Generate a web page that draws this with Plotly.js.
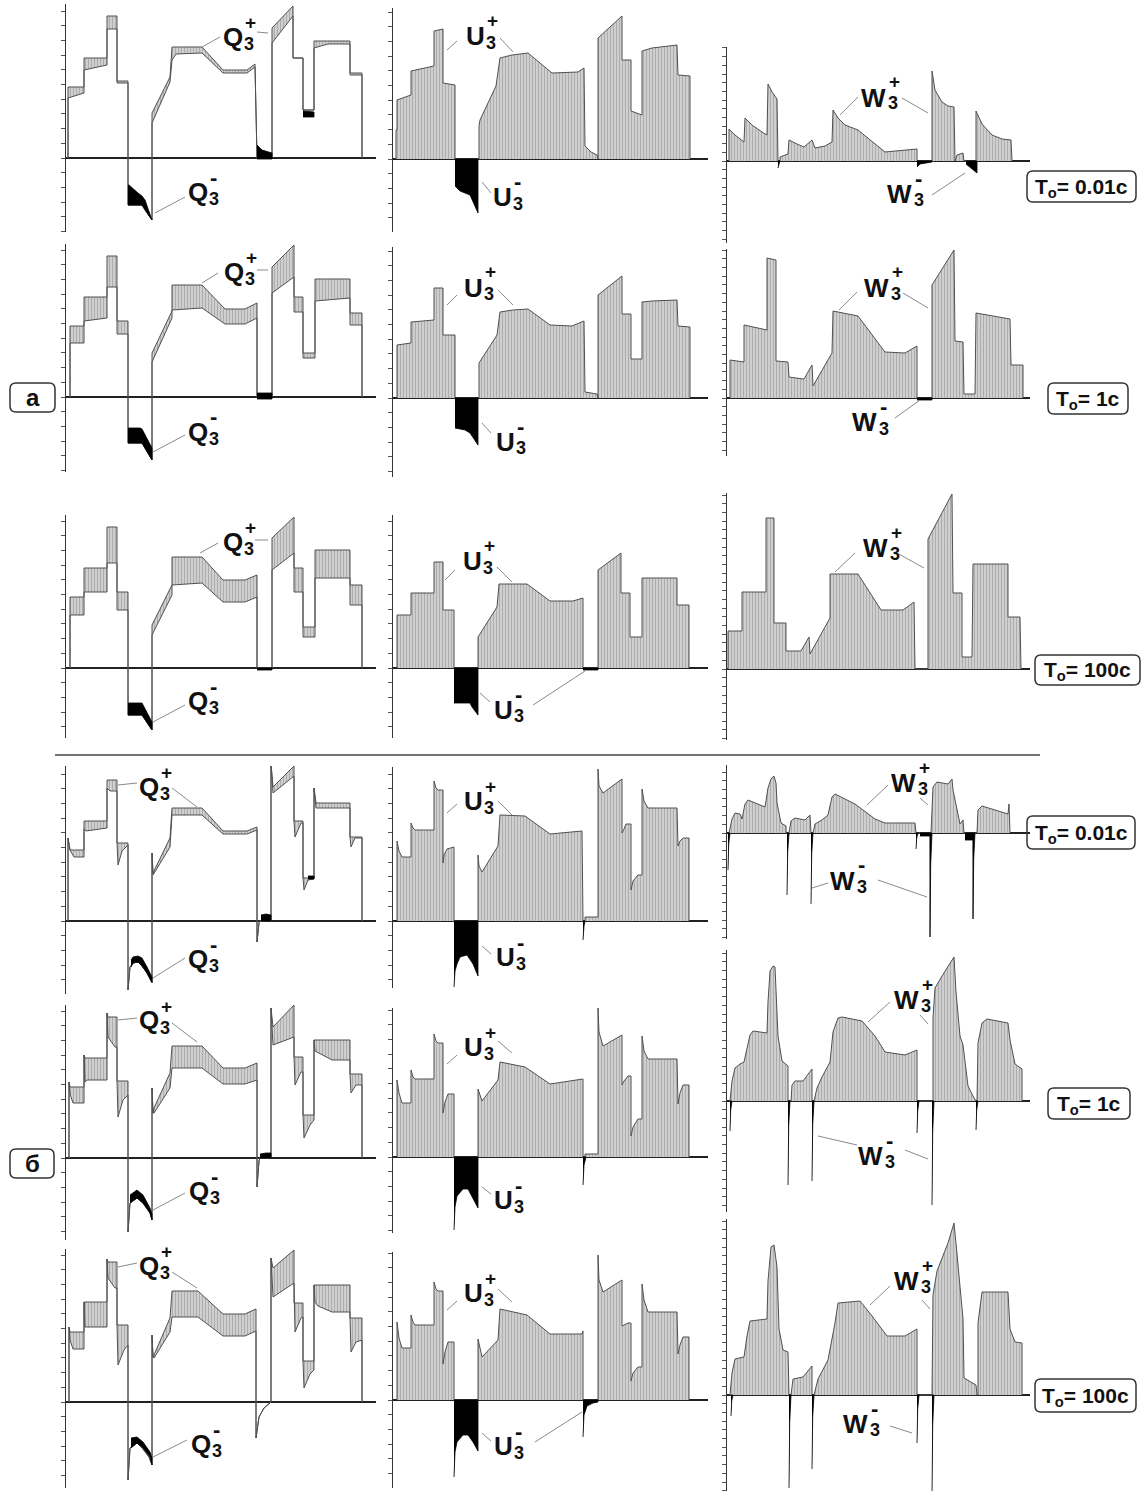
<!DOCTYPE html>
<html><head><meta charset="utf-8">
<script src="https://cdn.plot.ly/plotly-3.0.1.min.js"></script>
<style>html,body{margin:0;padding:0;background:#fff}#chart{width:1144px;height:1491px}</style>
</head><body><div id="chart"></div>
<script>
// ===== DATA (time along x, value along y; Q: outer/inner envelopes; negative parts separately) =====
// --- а, T0 = 0.01 c ---
const Q_A1_X  = [2,2,18,18,41,41,51,51,62,62,76,86,86,104,106,110,136,157,181,189,191,206,206,227,227,237,237,248,248,262,284,284,296,296];
const Q_A1_HI = [0,71,71,100,100,142,142,77,77,-47,-47,-62,45,81,111,111,111,88,88,94,0,0,130,152,100,100,48,48,117,117,117,85,85,0];
const Q_A1_LO = [0,60,65,88,93,129,129,75,75,-47,-47,-62,35,76,98,104,105,85,85,91,0,0,115,142,100,100,48,48,110,114,114,83,83,0];
const Q_A1_NX   = [62,63,72,76,79,86,null,191,196,206,null,237,248];
const Q_A1_NTOP = [-27,-27,-35,-38,-42,-60,null,13,8,5,null,47,46];
const Q_A1_NBOT = [-47,-47,-47,-47,-52,-62,null,-1,-1,-1,null,41,41];
const U_A1_X = [3,3,4,4,18,18,41,41,50,50,62,62,86,86,87,103,107,119,135,159,185,191,192,198,204,205,205,229,229,238,238,249,249,259,284,285,297,297];
const U_A1_Y = [0,29,29,59,64,88,93,128,130,76,74,0,0,33,39,73,101,104,106,86,87,91,13,7,4,0,121,143,99,99,48,44,108,111,114,84,83,0];
const U_A1_NX   = [62,67,77,79,85];
const U_A1_NBOT = [-27,-32,-36,-41,-54];
const W_A1_X = [2,2,8,17,18,25,35,40,41,45,50,51,53,53,61,62,70,77,85,88,98,105,106,111,118,131,158,190,190,205,205,208,215,221,227,228,230,236,237,249,249,255,265,275,284,285];
const W_A1_Y = [0,32,26,19,43,36,29,26,77,69,62,0,0,4,7,21,17,14,21,13,15,19,51,43,36,31,9,12,0,0,90,71,59,55,54,0,6,8,0,0,50,37,26,22,21,0];
const W_A1_NX   = [51,52,53,null,190,193,205,null,239,245,250];
const W_A1_NBOT = [-7,-3,0,null,-6,-3,-1,null,-3,-8,-12];
// --- а, T0 = 1 c ---
const Q_A2_X  = [4,4,18,18,41,41,51,51,62,62,76,86,86,106,106,136,159,179,191,191,206,206,228,228,237,237,249,249,284,284,296,296];
const Q_A2_HI = [0,71,71,100,100,141,141,76,76,-46,-46,-63,44,86,112,112,88,88,94,0,0,130,152,100,100,44,44,118,118,84,84,0];
const Q_A2_LO = [0,54,54,76,79,110,110,63,63,-46,-46,-63,35,79,87,89,73,73,79,0,0,104,120,85,85,39,39,96,99,72,72,0];
const Q_A2_NX   = [62,74,76,86,null,191,206];
const Q_A2_NTOP = [-31,-31,-32,-51,null,4,4];
const Q_A2_NBOT = [-46,-46,-46,-63,null,-2,-2];
const U_A2_X = [4,4,18,18,41,41,50,50,62,62,86,86,104,107,120,135,157,179,191,192,204,205,205,229,229,238,238,249,249,259,284,285,297,297];
const U_A2_Y = [0,53,55,76,78,110,110,63,63,0,0,35,63,86,88,89,73,72,77,6,4,0,103,122,84,84,39,39,96,97,98,72,71,0];
const U_A2_NX   = [62,72,77,79,85];
const U_A2_NBOT = [-30,-32,-35,-37,-47];
const W_A2_X = [3,3,17,17,40,40,49,49,61,62,76,77,85,86,105,106,131,158,178,190,190,205,205,227,228,236,237,248,249,283,284,296,296];
const W_A2_Y = [0,38,36,73,68,140,138,37,36,21,19,19,33,12,45,87,82,46,45,52,0,0,113,148,57,56,4,4,85,79,33,33,0];
const W_A2_NX   = [190,205];
const W_A2_NBOT = [-2,-2];
// --- а, T0 = 100 c ---
const Q_A3_X  = [4,4,18,18,41,41,51,51,62,62,76,86,86,106,106,136,157,179,191,191,206,206,228,228,237,237,249,249,284,284,296,296];
const Q_A3_HI = [0,71,71,100,100,141,141,76,76,-47,-47,-62,43,83,111,111,88,88,93,0,0,130,151,100,100,41,41,118,118,83,83,0];
const Q_A3_LO = [0,53,53,76,76,105,105,58,58,-47,-47,-62,33,73,83,85,66,66,71,0,0,98,115,76,76,31,31,90,90,63,63,0];
const Q_A3_NX   = [62,76,86,null,191,206];
const Q_A3_NTOP = [-35,-35,-54,null,0,0];
const Q_A3_NBOT = [-47,-47,-62,null,-2,-2];
const U_A3_X = [4,4,18,18,41,41,50,50,61,61,85,85,104,106,134,157,180,190,190,205,205,228,228,237,237,249,249,284,284,296,296];
const U_A3_Y = [0,53,53,75,75,106,106,58,58,0,0,31,61,84,84,67,67,70,0,0,98,115,75,75,31,31,90,90,63,63,0];
const U_A3_NX   = [61,77,79,85,null,190,205];
const U_A3_NBOT = [-35,-35,-39,-47,null,-2,-2];
const W_A3_X = [1,1,15,15,39,39,47,47,59,59,74,82,83,103,103,131,154,176,187,188,201,201,225,226,235,235,245,246,281,281,293,294];
const W_A3_Y = [0,38,38,77,77,151,151,46,46,18,18,32,15,51,95,95,59,59,67,0,0,130,175,76,76,12,12,105,105,52,52,0];
const W_A3_NX   = [];
const W_A3_NBOT = [];
// --- б, T0 = 0.01 c ---
const Q_B1_X  = [2,2,4,8,18,18,20,41,41,44,51,51,52,56,62,62,64,67,72,76,81,86,86,87,104,106,136,157,181,191,191,193,194,205,205,207,228,228,229,235,237,237,238,242,248,248,250,284,284,285,289,296,296];
const Q_B1_HI = [0,83,71,71,71,100,100,100,141,141,141,78,78,78,78,-69,-46,-42,-41,-45,-52,-62,68,48,83,113,113,90,90,94,-21,-2,0,0,158,134,155,100,100,100,100,43,43,43,43,133,118,118,84,84,84,84,0];
const Q_B1_LO = [0,83,71,64,64,92,90,93,133,130,130,78,56,70,76,-69,-46,-42,-41,-45,-52,-62,68,46,74,106,106,87,87,91,-21,-2,0,0,158,128,145,100,84,98,98,43,31,41,42,133,113,113,84,74,83,83,0];
const Q_B1_NX   = [65,67,72,76,81,86,null,195,200,205,null,242,248];
const Q_B1_NTOP = [-39,-36,-35,-37,-46,-56,null,6,7,6,null,45,45];
const Q_B1_NBOT = [-46,-42,-41,-45,-52,-61,null,0,0,0,null,42,42];
const U_B1_X = [4,4,6,9,18,18,20,22,41,41,43,45,50,50,51,54,61,61,85,85,86,89,105,107,132,157,189,190,192,192,205,205,206,210,229,229,231,233,238,238,240,245,249,249,251,255,284,285,287,290,296,296];
const U_B1_Y = [0,80,70,64,64,98,93,91,91,140,133,131,131,58,66,72,74,0,0,66,55,49,75,106,105,87,90,0,0,4,4,152,135,128,142,88,92,97,97,31,40,46,46,132,120,113,113,75,80,83,83,0];
const U_B1_NX   = [61,62,64,67,74,80,85,null,190,191,192];
const U_B1_NBOT = [-66,-50,-43,-36,-34,-43,-55,null,-19,-5,0];
const W_B1_X = [2,5,8,13,15,18,21,38,41,44,47,49,50,54,59,59,62,64,68,78,83,84,86,88,95,101,105,108,128,148,158,188,189,204,206,210,221,225,226,233,236,237,250,251,255,275,281,282,283];
const W_B1_Y = [0,14,20,19,14,29,33,26,45,54,57,50,30,10,7,0,0,12,15,13,18,0,0,9,13,18,36,39,29,14,10,10,0,0,46,51,49,54,43,9,13,0,0,23,27,21,19,29,0];
const W_B1_NX   = [1,1.7,3,null,60,60.7,62,null,84,84.7,86,null,189,189.7,191,null,193,202.9,203,203.7,205,null,238,245.9,246,246.7,248];
const W_B1_NBOT = [-37,-11,0,null,-62,-19,0,null,-71,-21,0,null,-16,-5,0,null,-3,-3,-104,-31,0,null,-7,-7,-86,-26,0];
// --- б, T0 = 1 c ---
const Q_B2_X  = [3,3,4,7,18,18,19,21,41,41,42,49,51,51,52,57,62,62,64,71,77,84,86,86,87,88,104,106,136,157,179,191,191,193,194,205,205,207,228,228,229,235,237,237,238,244,248,248,249,252,266,284,284,285,290,296,296];
const Q_B2_HI = [0,76,71,71,71,103,100,100,100,145,141,141,141,77,77,77,77,-74,-45,-40,-45,-55,-62,70,45,50,85,112,112,90,90,95,-29,-3,0,0,150,131,153,101,101,101,101,43,43,43,43,118,118,118,118,118,84,84,84,84,0];
const Q_B2_LO = [0,76,64,55,55,103,76,78,78,145,121,111,111,77,41,58,63,-74,-45,-40,-45,-55,-62,70,45,45,70,90,90,74,74,78,-29,-3,0,0,150,113,121,101,73,86,86,43,20,33,38,118,107,105,98,98,84,65,73,73,0];
const Q_B2_NX   = [64,71,77,84,86,null,194,200,205];
const Q_B2_NTOP = [-37,-32,-37,-50,-56,null,4,5,5];
const Q_B2_NBOT = [-45,-40,-45,-55,-62,null,0,0,0];
const U_B2_X = [4,4,6,9,18,18,20,22,41,41,43,45,50,50,52,55,61,61,85,85,89,105,107,132,157,187,190,190,192,192,205,205,206,210,229,229,231,235,238,238,240,245,249,249,251,255,284,285,287,290,296,296];
const U_B2_Y = [0,77,64,54,54,87,80,78,78,123,116,114,114,44,55,63,63,0,0,68,56,77,95,90,73,77,78,0,0,3,3,149,125,111,122,72,76,81,81,21,30,38,38,121,106,98,98,53,64,72,72,0];
const U_B2_NX   = [61,62,64,70,75,80,85,null,190,191,193];
const U_B2_NBOT = [-73,-50,-39,-32,-32,-42,-51,null,-28,-8,0];
const W_B2_X = [3,5,8,13,17,20,23,26,40,41,43,46,48,51,55,61,61,64,65,68,76,85,85,87,90,95,103,106,111,115,135,148,158,178,190,190,206,206,208,215,221,227,229,233,236,241,247,249,250,251,255,260,281,283,288,295,295];
const W_B2_Y = [0,20,33,37,39,54,66,70,68,99,130,135,134,65,40,35,0,0,16,20,20,32,0,0,13,24,39,69,83,84,80,65,49,46,51,0,0,83,113,125,135,144,109,65,56,15,3,0,0,58,78,82,78,61,37,32,0];
const W_B2_NX   = [3,3.7,5,null,61,61.7,63,null,85,85.7,87,null,190,190.7,192,null,205,205.7,207,null,249,249.7,251];
const W_B2_NBOT = [-30,-9,0,null,-84,-25,0,null,-80,-24,0,null,-32,-10,0,null,-104,-31,0,null,-29,-9,0];
// --- б, T0 = 100 c ---
const Q_B3_X  = [3,3,4,7,18,18,19,41,41,42,49,51,51,52,58,62,62,64,71,77,83,86,86,87,88,104,106,132,157,179,190,190,193,198,204,205,205,207,228,228,229,235,237,237,238,244,248,248,249,252,266,284,284,285,290,296,296];
const Q_B3_HI = [0,75,70,70,70,100,100,100,143,140,140,140,77,77,77,77,-78,-46,-41,-47,-55,-63,67,45,47,84,111,111,88,88,93,-36,-15,-6,-1,0,144,134,152,99,99,99,99,41,41,41,41,117,117,117,117,117,84,84,84,84,0];
const Q_B3_LO = [0,75,62,53,53,100,75,75,143,124,114,114,77,37,52,57,-78,-46,-41,-47,-55,-63,67,45,44,70,85,85,66,66,71,-36,-15,-6,-1,0,144,105,119,99,70,84,85,41,14,28,32,117,100,96,90,90,84,50,60,62,0];
const Q_B3_NX   = [65,71,77,84,86];
const Q_B3_NTOP = [-36,-35,-40,-50,-56];
const Q_B3_NBOT = [-46,-41,-46,-55,-63];
const U_B3_X = [4,4,6,9,18,18,20,22,41,41,43,45,50,50,52,55,61,61,85,85,89,105,107,134,157,189,190,190,205,205,206,210,229,229,235,238,238,240,245,249,249,251,255,284,285,287,290,296,296];
const U_B3_Y = [0,78,62,52,52,85,78,75,75,118,111,109,109,36,48,58,58,0,0,61,43,60,91,85,66,66,69,0,0,145,120,108,120,74,77,77,19,27,33,33,116,100,88,88,46,55,63,63,0];
const U_B3_NX   = [61,62,64,70,75,80,85,null,190,191,194,200,205];
const U_B3_NBOT = [-77,-52,-42,-35,-35,-42,-51,null,-37,-15,-6,-3,-2];
const W_B3_X = [3,5,8,17,20,23,40,41,44,47,50,52,56,61,62,64,66,76,85,85,87,91,101,108,111,133,145,160,178,190,190,205,206,210,221,227,230,235,236,237,245,249,250,251,251,255,281,283,288,295,295];
const W_B3_Y = [0,22,36,38,59,74,76,114,148,150,128,66,45,43,0,0,16,18,29,0,0,16,35,72,92,94,79,59,59,66,0,0,100,124,152,172,141,86,76,17,12,10,0,0,72,103,103,66,53,52,0];
const W_B3_NX   = [4,4.7,6,null,62,62.7,64,null,85,85.7,87,null,190,190.7,192,null,205,205.7,207];
const W_B3_NBOT = [-21,-6,0,null,-93,-28,0,null,-74,-22,0,null,-48,-14,0,null,-100,-30,0];

const PERIOD_LABELS = ['0.01c','1c','100c'];
const GROUP_LABELS = ['а','б'];

// ===== LAYOUT CONFIG (pixel geometry of the figure) =====
const FW = 1144, FH = 1491;
const COLS = [{x0:66,w:310,dtick:14.7},{x0:393,w:315,dtick:14.7},{x0:727,w:303,dtick:8.7}];
const ROWS = [
  [{zero:158,top:154,bot:74},{zero:159,top:151,bot:73},{zero:161,top:114,bot:82}],
  [{zero:397,top:153,bot:75},{zero:398,top:151,bot:79},{zero:398,top:149,bot:58}],
  [{zero:668,top:153,bot:70},{zero:668,top:153,bot:70},{zero:669,top:176,bot:71}],
  [{zero:921,top:155,bot:73},{zero:921,top:154,bot:67},{zero:833,top:68,bot:106}],
  [{zero:1158,top:153,bot:82},{zero:1157,top:149,bot:76},{zero:1101,top:151,bot:111}],
  [{zero:1402,top:153,bot:86},{zero:1400,top:148,bot:88},{zero:1395,top:176,bot:96}]
];
const DATA = [
  [{k:'Q',x:Q_A1_X,hi:Q_A1_HI,lo:Q_A1_LO,nx:Q_A1_NX,nt:Q_A1_NTOP,nb:Q_A1_NBOT},{k:'U',x:U_A1_X,y:U_A1_Y,nx:U_A1_NX,nb:U_A1_NBOT},{k:'W',x:W_A1_X,y:W_A1_Y,nx:W_A1_NX,nb:W_A1_NBOT}],
  [{k:'Q',x:Q_A2_X,hi:Q_A2_HI,lo:Q_A2_LO,nx:Q_A2_NX,nt:Q_A2_NTOP,nb:Q_A2_NBOT},{k:'U',x:U_A2_X,y:U_A2_Y,nx:U_A2_NX,nb:U_A2_NBOT},{k:'W',x:W_A2_X,y:W_A2_Y,nx:W_A2_NX,nb:W_A2_NBOT}],
  [{k:'Q',x:Q_A3_X,hi:Q_A3_HI,lo:Q_A3_LO,nx:Q_A3_NX,nt:Q_A3_NTOP,nb:Q_A3_NBOT},{k:'U',x:U_A3_X,y:U_A3_Y,nx:U_A3_NX,nb:U_A3_NBOT},{k:'W',x:W_A3_X,y:W_A3_Y,nx:W_A3_NX,nb:W_A3_NBOT}],
  [{k:'Q',x:Q_B1_X,hi:Q_B1_HI,lo:Q_B1_LO,nx:Q_B1_NX,nt:Q_B1_NTOP,nb:Q_B1_NBOT},{k:'U',x:U_B1_X,y:U_B1_Y,nx:U_B1_NX,nb:U_B1_NBOT},{k:'W',x:W_B1_X,y:W_B1_Y,nx:W_B1_NX,nb:W_B1_NBOT}],
  [{k:'Q',x:Q_B2_X,hi:Q_B2_HI,lo:Q_B2_LO,nx:Q_B2_NX,nt:Q_B2_NTOP,nb:Q_B2_NBOT},{k:'U',x:U_B2_X,y:U_B2_Y,nx:U_B2_NX,nb:U_B2_NBOT},{k:'W',x:W_B2_X,y:W_B2_Y,nx:W_B2_NX,nb:W_B2_NBOT}],
  [{k:'Q',x:Q_B3_X,hi:Q_B3_HI,lo:Q_B3_LO,nx:Q_B3_NX,nt:Q_B3_NTOP,nb:Q_B3_NBOT},{k:'U',x:U_B3_X,y:U_B3_Y,nx:U_B3_NX,nb:U_B3_NBOT},{k:'W',x:W_B3_X,y:W_B3_Y,nx:W_B3_NX,nb:W_B3_NBOT}]
];
// label letter boxes: [letter, sign, left, top, bottom] in figure pixels
const LABELS = [
  ['Q','+',222,27,47],['Q','-',187,182,202],['U','+',465,27,46],['U','-',492,187,207],['W','+',860,89,106],['W','-',886,184,203],
  ['Q','+',223,262,282],['Q','-',187,421,442],['U','+',463,278,297],['U','-',495,432,451],['W','+',863,278,297],['W','-',851,413,432],
  ['Q','+',222,532,552],['Q','-',187,690,711],['U','+',462,552,571],['U','-',493,700,719],['W','+',862,538,557],
  ['Q','+',138,777,797],['Q','-',187,948,969],['U','+',463,791,811],['U','-',495,947,967],['W','+',890,773,792],['W','-',829,872,890],
  ['Q','+',138,1010,1031],['Q','-',188,1180,1201],['U','+',463,1037,1057],['U','-',493,1190,1210],['W','+',893,991,1009],['W','-',857,1146,1165],
  ['Q','+',138,1255,1276],['Q','-',190,1433,1454],['U','+',463,1283,1303],['U','-',493,1436,1456],['W','+',893,1271,1290],['W','-',842,1414,1433]
];
const LEADERS = [
  [202,47,220,37],[257,32,268,33],[155,213,185,197],[447,50,457,41],[500,38,513,52],[482,182,491,193],[840,115,858,97],[902,98,928,113],[932,195,965,173],
  [202,283,218,273],[257,270,268,270],[153,452,185,435],[447,305,457,295],[498,290,513,305],[482,423,491,433],[839,310,857,292],[903,293,928,308],[895,418,920,400],
  [200,553,218,543],[255,540,268,540],[153,722,185,705],[445,580,455,570],[497,567,512,582],[480,693,490,702],[533,705,585,671],[835,572,855,553],[897,553,924,568],
  [118,785,137,783],[172,788,197,807],[153,978,185,958],[447,813,457,804],[498,801,512,815],[482,946,491,954],[867,805,888,785],[920,798,928,805],[812,888,828,883],[878,880,927,897],
  [118,1020,137,1018],[172,1023,197,1042],[153,1210,185,1193],[447,1064,457,1055],[498,1041,512,1053],[482,1187,491,1194],[868,1022,890,1002],[920,1015,928,1024],[818,1136,857,1145],[905,1150,928,1159],
  [118,1267,137,1263],[172,1272,197,1288],[153,1457,187,1440],[447,1310,457,1301],[498,1289,512,1302],[482,1433,491,1441],[535,1442,582,1412],[870,1305,890,1286],[922,1300,930,1309],[890,1426,912,1433]
];
const TBOXES = [[1027,1136,171,202],[1048,1128,383,414],[1035,1140,655,685],[1027,1135,816,849],[1048,1130,1088,1119],[1035,1136,1379,1412]];
const GBOXES = [[10,55,383,412],[10,54,1149,1178]];

// ===== BUILD =====
const FONT = 'Liberation Sans, Arial, Helvetica, sans-serif';
const TXT = '#111';
const LINE = '#505050';
const HATCH = {shape:'|', size:3, solidity:0.34, fgcolor:'#8c8c8c', fillmode:'overlay'};
const FILLC = '#cfcfcf';
const PX = v => v / FW, PY = v => 1 - v / FH;

function band(x, hi, lo){
  return {x: x.concat(x.slice().reverse()), y: hi.concat(lo.slice().reverse())};
}
function segPolys(x, top, bot){
  const px = [], py = [];
  let sx = [], st = [], sb = [];
  const flush = () => {
    if (sx.length){
      for (let i = 0; i < sx.length; i++){ px.push(sx[i]); py.push(st[i]); }
      for (let i = sx.length - 1; i >= 0; i--){ px.push(sx[i]); py.push(sb[i]); }
      px.push(null); py.push(null);
    }
    sx = []; st = []; sb = [];
  };
  for (let i = 0; i < x.length; i++){
    if (x[i] === null){ flush(); continue; }
    sx.push(x[i]); st.push(top ? top[i] : 0); sb.push(bot[i]);
  }
  flush();
  return {x: px, y: py};
}

const traces = [];
const layout = {
  width: FW, height: FH, margin: {l:0, r:0, t:0, b:0},
  paper_bgcolor: '#fff', plot_bgcolor: 'rgba(0,0,0,0)', showlegend: false,
  annotations: [], shapes: []
};
let idx = 0;
for (let r = 0; r < 6; r++){
  for (let c = 0; c < 3; c++){
    idx++;
    const g = ROWS[r][c], col = COLS[c], d = DATA[r][c];
    const xa = 'x' + (idx === 1 ? '' : idx), ya = 'y' + (idx === 1 ? '' : idx);
    const xk = 'xaxis' + (idx === 1 ? '' : idx), yk = 'yaxis' + (idx === 1 ? '' : idx);
    layout[xk] = {domain:[PX(col.x0), PX(col.x0 + col.w)], range:[0, col.w], anchor: ya,
      showline:false, showgrid:false, zeroline:false, showticklabels:false, ticks:'', fixedrange:true};
    layout[yk] = {domain:[PY(g.zero + g.bot), PY(g.zero - g.top)], range:[-g.bot, g.top], anchor: xa,
      showline:true, linecolor:'#333', linewidth:1.5, ticks:'outside', ticklen:4, tickwidth:1, tickcolor:'#555',
      tick0:0, dtick: col.dtick, showticklabels:false, showgrid:false,
      zeroline:true, zerolinecolor:'#222', zerolinewidth:1.6, fixedrange:true};
    let main;
    if (d.k === 'Q') main = band(d.x, d.hi, d.lo);
    else main = {x: d.x, y: d.y};
    traces.push({type:'scatter', mode:'lines', x: main.x, y: main.y, xaxis: xa, yaxis: ya,
      fill:'toself', fillcolor: FILLC, fillpattern: HATCH, line:{color: LINE, width:1}, hoverinfo:'skip'});
    if (d.nx.length){
      const n = segPolys(d.nx, d.nt || null, d.nb);
      traces.push({type:'scatter', mode:'lines', x: n.x, y: n.y, xaxis: xa, yaxis: ya,
        fill:'toself', fillcolor:'#000', line:{color:'#000', width:0.8}, hoverinfo:'skip'});
    }
  }
}

// labels
const LW = {Q:21, U:20, W:27};
LABELS.forEach(L => {
  const [t, s, x, y0, y1] = L;
  const w = LW[t];
  const extra = Math.max(0, 21 - (y1 - y0));
  layout.annotations.push({xref:'paper', yref:'paper', x:PX(x), y:PY((y0 + y1) / 2), xanchor:'left', yanchor:'middle',
    text:'<b>' + t + '</b>', showarrow:false, borderpad:0, font:{family:FONT, size:26, color:TXT}});
  layout.annotations.push({xref:'paper', yref:'paper', x:PX(x + w + 1), y:PY(y0 - 4 - extra), xanchor:'left', yanchor:'middle',
    text:'<b>' + s + '</b>', showarrow:false, borderpad:0, font:{family:FONT, size: s === '+' ? 19 : 22, color:TXT}});
  layout.annotations.push({xref:'paper', yref:'paper', x:PX(x + w), y:PY(y1 - 3), xanchor:'left', yanchor:'middle',
    text:'<b>3</b>', showarrow:false, borderpad:0, font:{family:FONT, size:18, color:TXT}});
});
LEADERS.forEach(l => {
  layout.shapes.push({type:'line', xref:'paper', yref:'paper', x0:PX(l[0]), y0:PY(l[1]), x1:PX(l[2]), y1:PY(l[3]),
    line:{color:'#8a8a8a', width:1}});
});
function rrect(x0, x1, y0, y1, r){
  const X = PX, Y = PY;
  return `M${X(x0+r)},${Y(y0)} L${X(x1-r)},${Y(y0)} Q${X(x1)},${Y(y0)} ${X(x1)},${Y(y0+r)} L${X(x1)},${Y(y1-r)} Q${X(x1)},${Y(y1)} ${X(x1-r)},${Y(y1)} L${X(x0+r)},${Y(y1)} Q${X(x0)},${Y(y1)} ${X(x0)},${Y(y1-r)} L${X(x0)},${Y(y0+r)} Q${X(x0)},${Y(y0)} ${X(x0+r)},${Y(y0)} Z`;
}
TBOXES.forEach((b, i) => {
  layout.shapes.push({type:'path', xref:'paper', yref:'paper', path: rrect(b[0], b[1], b[2], b[3], 6),
    line:{color:'#333', width:1.5}, fillcolor:'rgba(0,0,0,0)'});
  layout.annotations.push({xref:'paper', yref:'paper', x:PX((b[0] + b[1]) / 2), y:PY((b[2] + b[3]) / 2 + 1),
    xanchor:'center', yanchor:'middle', showarrow:false, borderpad:0,
    text:'<b>T<sub>o</sub>= ' + PERIOD_LABELS[i % 3] + '</b>', font:{family:FONT, size:21, color:TXT}});
});
GBOXES.forEach((b, i) => {
  layout.shapes.push({type:'path', xref:'paper', yref:'paper', path: rrect(b[0], b[1], b[2], b[3], 6),
    line:{color:'#333', width:1.5}, fillcolor:'rgba(0,0,0,0)'});
  layout.annotations.push({xref:'paper', yref:'paper', x:PX((b[0] + b[1]) / 2), y:PY((b[2] + b[3]) / 2),
    xanchor:'center', yanchor:'middle', showarrow:false, borderpad:0,
    text:'<b>' + GROUP_LABELS[i] + '</b>', font:{family:FONT, size:24, color:TXT}});
});
layout.shapes.push({type:'line', xref:'paper', yref:'paper', x0:PX(55), y0:PY(755), x1:PX(1040), y1:PY(755),
  line:{color:'#444', width:1.5}});

Plotly.newPlot('chart', traces, layout, {staticPlot:true, displayModeBar:false});
</script>
</body></html>
